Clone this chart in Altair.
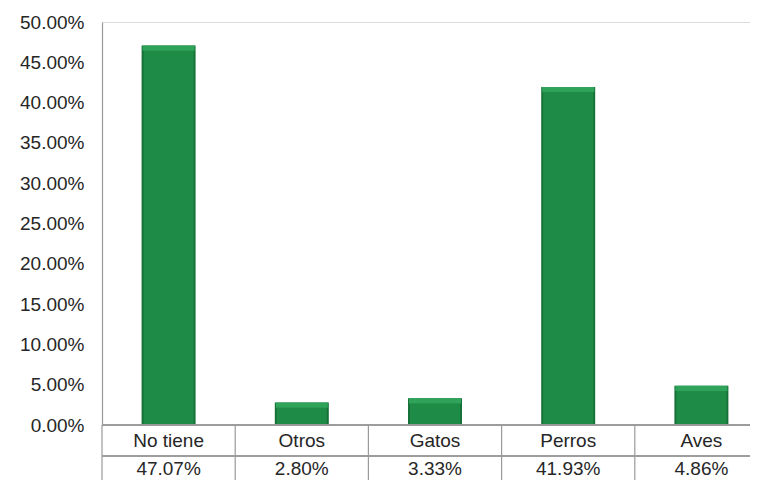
import altair as alt
import pandas as pd

categories = ["No tiene", "Otros", "Gatos", "Perros", "Aves"]
values = [47.07, 2.80, 3.33, 41.93, 4.86]
value_labels = ["47.07%", "2.80%", "3.33%", "41.93%", "4.86%"]
y_ticks = [0, 0.05, 0.10, 0.15, 0.20, 0.25, 0.30, 0.35, 0.40, 0.45, 0.50]

df = pd.DataFrame({
    "cat": categories,
    "v": [x / 100 for x in values],
    "lab": value_labels,
})
df["vtop"] = df["v"] - 0.0065
df["vface"] = df["v"] - 0.0065

W, H = 648, 403
FONT = "Liberation Sans"
TXT = "#262626"
LINE = "#9a9a9a"

xscale = alt.Scale(domain=categories, range=[0, 666], paddingInner=0, paddingOuter=0)
yscale = alt.Scale(domain=[0, 0.5], nice=False)

base = alt.Chart(df)
X = alt.X("cat:N", scale=xscale, axis=None, sort=categories)

edge = base.mark_bar(size=54, color="#177239").encode(
    x=X,
    y=alt.Y("v:Q", scale=yscale, axis=alt.Axis(
        values=y_ticks, format=".2%", title=None, ticks=False, grid=False,
        labelFont=FONT, labelFontSize=19, labelColor=TXT, labelPadding=18,
        domainColor=LINE, domainWidth=1.2)),
)
face = base.mark_bar(size=50, color="#1e8b47").encode(
    x=X, y=alt.Y("vface:Q", scale=yscale),
)
top = base.mark_bar(size=52, color="#2fa35a").encode(
    x=X, y=alt.Y("v:Q", scale=yscale), y2="vtop:Q",
)

cat_text = base.mark_text(font=FONT, fontSize=19, color=TXT, baseline="middle").encode(
    x=X, y=alt.value(H + 16), text="cat:N",
)
val_text = base.mark_text(font=FONT, fontSize=19, color=TXT, baseline="middle").encode(
    x=X, y=alt.value(H + 44), text="lab:N",
)

vlines = base.mark_rule(color=LINE, strokeWidth=1.2).encode(
    x=alt.X("cat:N", scale=xscale, axis=None, sort=categories, bandPosition=0),
    y=alt.value(H), y2=alt.value(H + 60),
)
h1 = alt.Chart(df).mark_rule(color=LINE, strokeWidth=1.2).encode(
    x=alt.value(0), x2=alt.value(W), y=alt.value(H),
)
h2 = alt.Chart(df).mark_rule(color=LINE, strokeWidth=1.2).encode(
    x=alt.value(0), x2=alt.value(W), y=alt.value(H + 31),
)

chart = alt.layer(edge, face, top, vlines, h1, h2, cat_text, val_text).properties(
    width=W, height=H,
    padding={"left": 94, "top": 14, "right": 0, "bottom": 55},
    autosize=alt.AutoSizeParams(type="none"),
).configure_view(stroke=None).configure(background="white")

chart.save("out.html", embed_options={"renderer": "svg", "actions": False})
